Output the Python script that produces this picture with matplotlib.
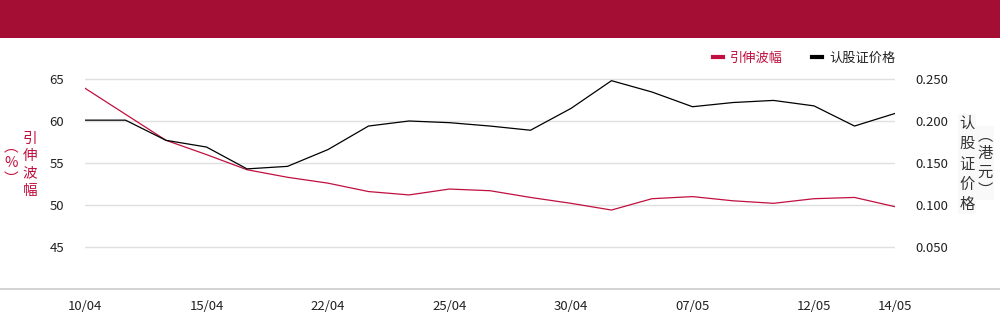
import matplotlib
matplotlib.use("Agg")
import matplotlib.pyplot as plt
from matplotlib.lines import Line2D

plt.rcParams['font.family'] = ['Noto Sans CJK SC', 'DejaVu Sans']

# 交易日
dates = ['10/04', '11/04', '14/04', '15/04', '16/04', '17/04', '22/04',
         '23/04', '24/04', '25/04', '28/04', '29/04', '30/04', '02/05',
         '06/05', '07/05', '08/05', '09/05', '12/05', '13/05', '14/05']
tick_labels = ['10/04', '15/04', '22/04', '25/04', '30/04', '07/05', '12/05', '14/05']

# 引伸波幅 (%)
iv = [63.9, 60.8, 57.7, 56.0, 54.2, 53.3, 52.6, 51.6, 51.2, 51.9, 51.7,
      50.9, 50.2, 49.4, 50.75, 51.0, 50.5, 50.2, 50.75, 50.9, 49.8]
# 认股证价格 (港元)
price = [0.201, 0.201, 0.177, 0.169, 0.143, 0.146, 0.166, 0.194, 0.200, 0.198,
         0.194, 0.189, 0.215, 0.248, 0.2345, 0.217, 0.222, 0.2245, 0.218, 0.194, 0.209]

red = '#C0103F'
banner = '#A50E34'

fig = plt.figure(figsize=(10, 3.24), dpi=100)
# 顶部色条
fig.patches.append(plt.Rectangle((0, 1 - 38 / 324), 1, 38 / 324, transform=fig.transFigure,
                                 facecolor=banner, edgecolor='none'))
# 底部分隔线
fig.lines.append(Line2D([0, 1], [1 - 289 / 324, 1 - 289 / 324], transform=fig.transFigure,
                        color='#cccccc', lw=1.2))

ax = fig.add_axes([0.085, 1 - 289 / 324, 0.810, 252 / 324])
ax2 = ax.twinx()

x = list(range(len(dates)))
ax.plot(x, iv, color=red, lw=0.9, zorder=3)
ax2.plot(x, price, color='black', lw=0.9)

ax.set_xlim(0, len(dates) - 1)
ax.set_ylim(40, 70)
ax2.set_ylim(0, 0.3)
ax.set_yticks([45, 50, 55, 60, 65])
ax2.set_yticks([0.05, 0.10, 0.15, 0.20, 0.25])
ax2.set_yticklabels(['%.3f' % v for v in [0.05, 0.10, 0.15, 0.20, 0.25]])
ax.set_xticks([dates.index(d) for d in tick_labels])
ax.set_xticklabels(tick_labels)

ax.grid(axis='y', color='#e0e0e0', lw=1)
ax.set_axisbelow(True)
for a in (ax, ax2):
    for s in a.spines.values():
        s.set_visible(False)
    a.tick_params(length=0, labelsize=9.5, colors='#222222')
ax.tick_params(axis='y', pad=15)
ax2.tick_params(axis='y', pad=15)
ax.tick_params(axis='x', pad=8)

# 纵轴标题 (竖排)
fig.text(30 / 1000, 1 - 165 / 324, '引\n伸\n波\n幅', color=red, fontsize=10.5,
         ha='center', va='center', linespacing=1.3)
fig.text(11 / 1000, 1 - 163 / 324, '︵\n%\n︶', color=red, fontsize=10.5,
         ha='center', va='center', linespacing=1.2)
fig.text(967 / 1000, 1 - 164 / 324, '认\n股\n证\n价\n格', color='#333333', fontsize=11,
         ha='center', va='center', linespacing=1.25,
         bbox=dict(facecolor='#f9f9f9', edgecolor='none', pad=1))
fig.text(985 / 1000, 1 - 163 / 324, '︵\n港\n元\n︶', color='#333333', fontsize=11,
         ha='center', va='center', linespacing=1.1,
         bbox=dict(facecolor='#f9f9f9', edgecolor='none', pad=1))

# 图例
handles = [Line2D([], [], color=red, lw=3), Line2D([], [], color='black', lw=3)]
leg = fig.legend(handles, ['引伸波幅', '认股证价格'], loc='center right',
                 bbox_to_anchor=(907 / 1000, 1 - 58 / 324), ncol=2, frameon=False,
                 fontsize=9.5, handlelength=0.8, handletextpad=0.5, columnspacing=2.2)
leg.get_texts()[0].set_color(red)
leg.get_texts()[1].set_color('#222222')

fig.savefig('out.png', dpi=100)
